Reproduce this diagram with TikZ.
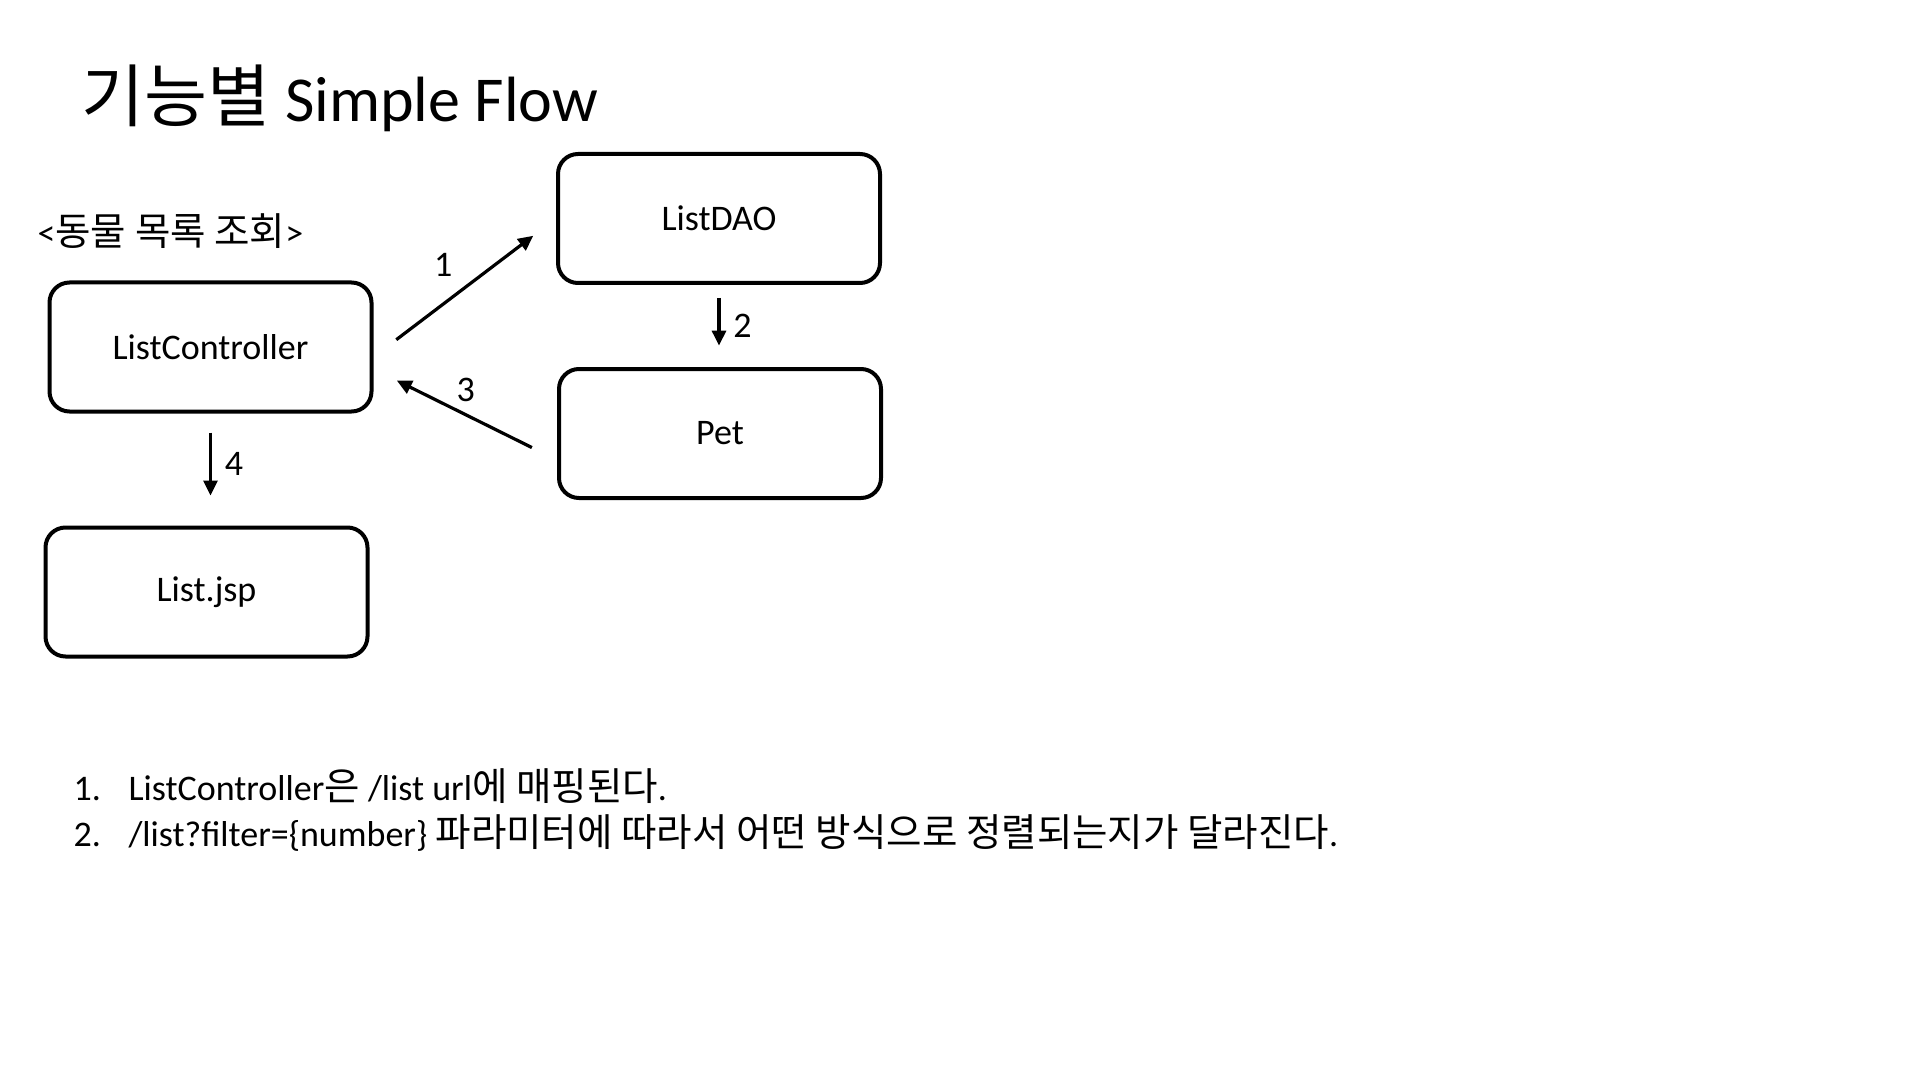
\documentclass[tikz,border=0pt]{standalone}
\usepackage{fontspec}
\setmainfont{Carlito}
\newfontfamily\kr{Noto Sans CJK KR}[Scale=1.07]
\usepackage{tikz}
\usetikzlibrary{
        arrows.meta,
        positioning
    }
\tikzset{>={Triangle[length=7.5pt,width=7pt]},auto,node distance=2cm}

\begin{document}
\begin{tikzpicture}[line width=1.6pt]
                \tikzset{box/.style={draw,rounded corners=10pt,line width=2pt,minimum width=161pt,minimum height=64.5pt,font=\fontsize{18}{22}\selectfont}}
                \tikzset{every node/.append style={font=\fontsize{18}{22}\selectfont}}
                \useasboundingbox (0,0) rectangle (960pt,-540pt);
                \node[anchor=base west,inner sep=0pt,font=\fontsize{32}{38}\selectfont] (title) at (40pt,-61pt) {{\kr 기능별} Simple Flow};
                \node[anchor=west,inner sep=0pt] (sub) at (18pt,-115.5pt) {<{\kr 동물 목록 조회}>};
                \node[box] (ctrl) at (105.25pt,-173.5pt) {ListController};
                \node[box] (dao) at (359.5pt,-109.25pt) {ListDAO};
                \node[box,below=41pt of dao,xshift=0.5pt] (pet) {Pet};
                \node[box,below=56pt of ctrl,xshift=-2pt] (jsp) {List.jsp};
                \path[->]
                        ([yshift=-5pt]ctrl.east) edge [shorten <=14.3pt,shorten >=14.3pt] node[pos=0.45,xshift=2.5pt,yshift=5pt] {1} (dao.west)
                        (dao.south) edge [shorten <=6.5pt,shorten >=10.7pt] node[xshift=3pt] {2} (dao.south |- pet.north)
                        ([yshift=-13.25pt]pet.west) edge [shorten <=14pt,shorten >=13pt] node[swap,xshift=-8.5pt,yshift=2pt] {3} ([yshift=-11pt]ctrl.east)
                        (ctrl.south) edge [shorten <=9.6pt,shorten >=15pt] node[xshift=3pt,yshift=3pt] {4} (ctrl.south |- jsp.north)
                ;
                \node[anchor=base west,inner sep=0pt] (item1) at (36pt,-400pt)
                        {\makebox[27.5pt][l]{1.}ListController{\kr 은} /list url{\kr 에 매핑된다}.};
                \node[anchor=base west,inner sep=0pt] (item2) at (36pt,-423pt)
                        {\makebox[27.5pt][l]{2.}/list?filter=\{number\} {\kr 파라미터에 따라서 어떤 방식으로 정렬되는지가 달라진다}.};
\end{tikzpicture}
\end{document}
